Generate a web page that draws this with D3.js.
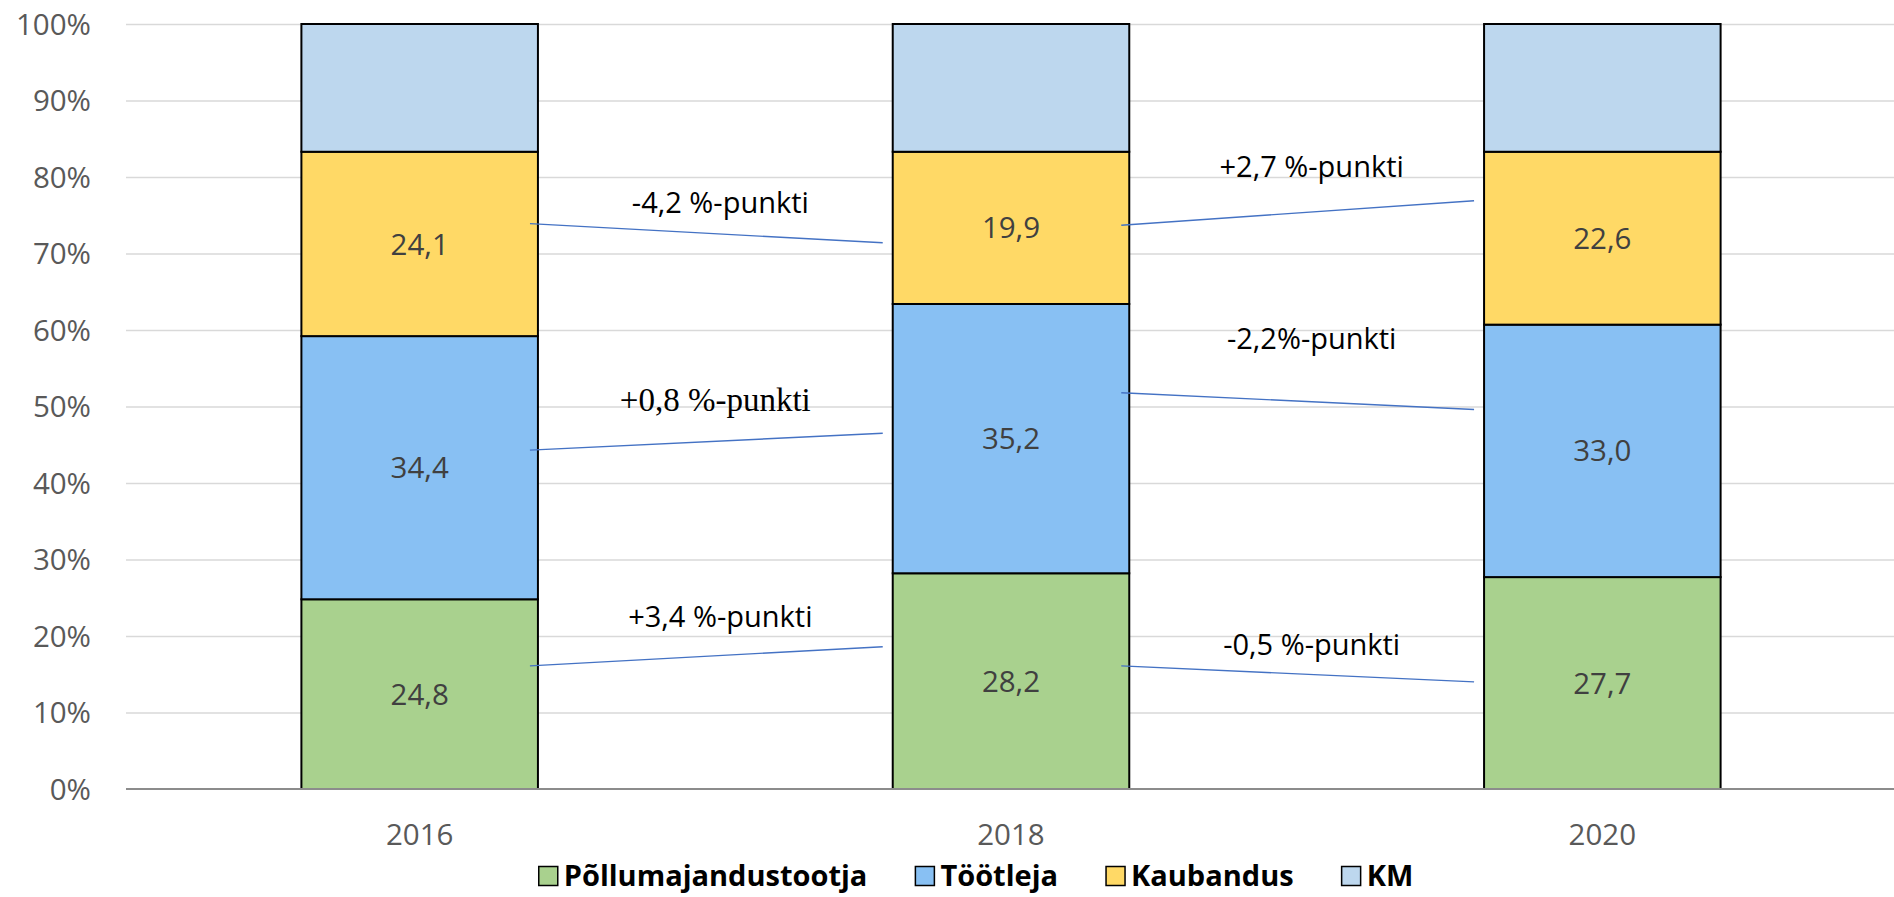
<!DOCTYPE html>
<html>
<head>
<meta charset="utf-8">
<script src="https://cdn.jsdelivr.net/npm/d3@7"></script>
<style>
  body { margin: 0; background: #fff; }
  svg { display: block; font-family: 'Open Sans', sans-serif; }
  .grid line { stroke: #d9d9d9; stroke-width: 1.5; }
  .grid path { display: none; }
  .tick-label { fill: #595959; font-size: 29.5px; }
  .bar { stroke: #000; stroke-width: 2; }
  .value { fill: #404040; font-size: 29.5px; }
  .change { fill: #000; font-size: 29px; }
  .change.serif { font-family: 'Liberation Serif', serif; font-size: 33px; }
  .connector { stroke: #4472c4; stroke-width: 1.4; }
  .legend text { font-size: 29px; font-weight: bold; fill: #000; }
</style>
</head>
<body>
<div id="chart"></div>
<script>
const years = ['2016', '2018', '2020'];
const seriesNames = ['Põllumajandustootja', 'Töötleja', 'Kaubandus', 'KM'];
const pollumajandus = [24.8, 28.2, 27.7];
const tootleja = [34.4, 35.2, 33.0];
const kaubandus = [24.1, 19.9, 22.6];
const km = [16.7, 16.7, 16.7];
const colors = ['#a9d18e', '#88c0f3', '#ffd966', '#bdd7ee'];
const yTicks = [0, 10, 20, 30, 40, 50, 60, 70, 80, 90, 100];

// change annotations between years (from = index of left year), values in %
const changeLabels = ['+3,4 %-punkti', '+0,8 %-punkti', '-4,2 %-punkti',
                      '-0,5 %-punkti', '-2,2%-punkti', '+2,7 %-punkti'];
const changeFrom = [0, 0, 0, 1, 1, 1];
const changeStart = [16.1, 44.3, 73.9, 16.1, 51.8, 73.7];
const changeEnd = [18.6, 46.5, 71.4, 14.0, 49.6, 76.9];
const changeLabelAt = [21.2, 49.4, 75.3, 17.5, 57.5, 80.0];
const changeSerif = [false, true, false, false, false, false];

const width = 1894, height = 897;
const margin = { top: 24, bottom: 108, left: 124, right: -4 };

const svg = d3.select('#chart').append('svg')
  .attr('width', width).attr('height', height);

const x = d3.scaleBand()
  .domain(years)
  .range([margin.left, width - margin.right])
  .paddingInner(0.6)
  .paddingOuter(0.3);

const y = d3.scaleLinear()
  .domain([0, 100])
  .range([height - margin.bottom, margin.top]);

// gridlines
svg.append('g')
  .attr('class', 'grid')
  .attr('transform', 'translate(' + (margin.left + 2) + ',0)')
  .call(d3.axisLeft(y).tickValues(yTicks.slice(1)).tickSize(-(width - margin.left)).tickFormat(''));

// y tick labels
svg.append('g').selectAll('text')
  .data(yTicks)
  .join('text')
  .attr('class', 'tick-label')
  .attr('x', 91)
  .attr('y', d => y(d))
  .attr('dy', '0.36em')
  .attr('text-anchor', 'end')
  .text(d => d + '%');

// stacked data
const table = years.map((yr, i) => ({
  year: yr,
  [seriesNames[0]]: pollumajandus[i],
  [seriesNames[1]]: tootleja[i],
  [seriesNames[2]]: kaubandus[i],
  [seriesNames[3]]: km[i]
}));
const stacked = d3.stack().keys(seriesNames)(table);

const layers = svg.append('g').selectAll('g')
  .data(stacked)
  .join('g')
  .attr('fill', (d, i) => colors[i]);

layers.selectAll('rect')
  .data(d => d)
  .join('rect')
  .attr('class', 'bar')
  .attr('x', d => x(d.data.year))
  .attr('width', x.bandwidth())
  .attr('y', d => y(d[1]))
  .attr('height', d => y(d[0]) - y(d[1]));

// value labels (not for KM)
svg.append('g').selectAll('g')
  .data(stacked.slice(0, 3))
  .join('g')
  .selectAll('text')
  .data(d => d)
  .join('text')
  .attr('class', 'value')
  .attr('x', d => x(d.data.year) + x.bandwidth() / 2)
  .attr('y', d => y((d[0] + d[1]) / 2))
  .attr('dy', '0.36em')
  .attr('text-anchor', 'middle')
  .text(d => d3.format('.1f')(d[1] - d[0]).replace('.', ','));

// baseline axis
svg.append('line')
  .attr('x1', margin.left + 2).attr('x2', width)
  .attr('y1', y(0)).attr('y2', y(0))
  .attr('stroke', '#8c8c8c').attr('stroke-width', 2);

// x labels
svg.append('g').selectAll('text')
  .data(years)
  .join('text')
  .attr('class', 'tick-label')
  .attr('x', d => x(d) + x.bandwidth() / 2)
  .attr('y', 834)
  .attr('dy', '0.36em')
  .attr('text-anchor', 'middle')
  .text(d => d);

// change connectors and labels
const ann = svg.append('g');
changeLabels.forEach((lab, i) => {
  const left = years[changeFrom[i]], right = years[changeFrom[i] + 1];
  const x1 = x(left) + x.bandwidth() - 8;
  const x2 = x(right) - 10;
  ann.append('line')
    .attr('class', 'connector')
    .attr('x1', x1).attr('y1', y(changeStart[i]))
    .attr('x2', x2).attr('y2', y(changeEnd[i]));
  const gapMid = (x(left) + x.bandwidth() + x(right)) / 2;
  ann.append('text')
    .attr('class', changeSerif[i] ? 'change serif' : 'change')
    .attr('x', gapMid + (changeSerif[i] ? 0 : 5))
    .attr('y', y(changeLabelAt[i]))
    .attr('text-anchor', 'middle')
    .text(lab);
});

// legend
const legend = svg.append('g').attr('class', 'legend');
const items = legend.selectAll('g')
  .data(seriesNames)
  .join('g');
items.append('rect')
  .attr('width', 19).attr('height', 19)
  .attr('y', -9.5)
  .attr('fill', (d, i) => colors[i])
  .attr('stroke', '#000').attr('stroke-width', 1.5);
items.append('text')
  .attr('x', 25)
  .attr('dy', '0.34em')
  .text(d => d);

let offset = 0;
items.each(function () {
  const g = d3.select(this);
  g.attr('transform', 'translate(' + offset + ',0)');
  offset += 25 + g.select('text').node().getComputedTextLength() + 48;
});
const legendWidth = offset - 48;
legend.attr('transform', 'translate(' + (976 - legendWidth / 2) + ',876)');
</script>
</body>
</html>
